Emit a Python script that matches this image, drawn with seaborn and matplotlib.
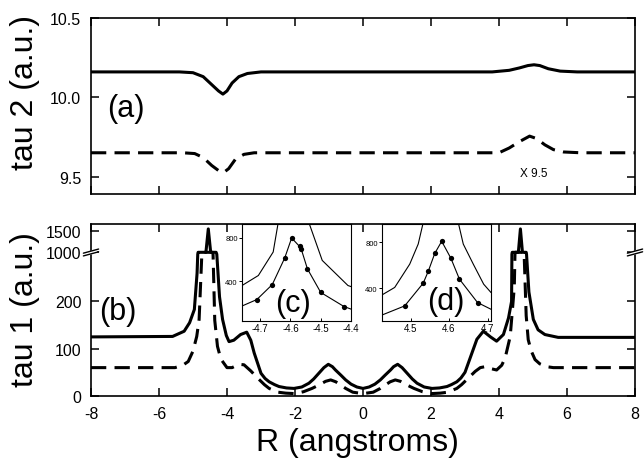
import numpy as np
import pandas as pd
import matplotlib
matplotlib.use("Agg")
import matplotlib.pyplot as plt
import seaborn as sns

# ---------------- panel (a): tau 2 ----------------
r_a_solid = [-8.0, -5.4, -5.0, -4.7, -4.45, -4.25, -4.12, -4.0, -3.85, -3.65, -3.4, -3.0,
             3.8, 4.3, 4.6, 4.85, 5.03, 5.2, 5.45, 5.8, 6.3, 8.0]
tau2_solid = [10.16, 10.16, 10.155, 10.13, 10.08, 10.04, 10.02, 10.04, 10.09, 10.13, 10.15, 10.16,
              10.16, 10.17, 10.185, 10.20, 10.205, 10.20, 10.18, 10.165, 10.16, 10.16]

r_a_dash = [-8.0, -5.3, -4.95, -4.7, -4.45, -4.2, -4.1, -3.95, -3.75, -3.5, -3.2,
            4.0, 4.3, 4.6, 4.9, 5.1, 5.35, 5.6, 5.9, 6.4, 8.0]
tau2_dash = [9.65, 9.65, 9.645, 9.62, 9.57, 9.53, 9.525, 9.55, 9.61, 9.64, 9.65,
             9.65, 9.68, 9.72, 9.755, 9.74, 9.70, 9.67, 9.655, 9.65, 9.65]

# ---------------- panel (b): tau 1 ----------------
r_b_solid = [-8.0, -5.6, -5.26, -5.1, -4.96, -4.88, -4.86, -4.85, -4.62, -4.55, -4.48, -4.32,
             -4.30, -4.22, -4.13, -4.02, -3.94, -3.8, -3.6, -3.42, -3.3, -3.2, -3.0, -2.88,
             -2.76, -2.6, -2.47, -2.25, -2.03, -1.8, -1.59, -1.45, -1.3, -1.15, -1.02, -0.9,
             -0.81, -0.65, -0.51, -0.35, -0.18, 0.0, 0.18, 0.35, 0.51, 0.65, 0.81, 0.9,
             1.02, 1.15, 1.3, 1.45, 1.59, 1.8, 2.03, 2.25, 2.47, 2.6, 2.76, 2.88,
             3.0, 3.2, 3.35, 3.54, 3.75, 3.93, 4.13, 4.28, 4.37, 4.38, 4.39, 4.57,
             4.63, 4.69, 4.80, 4.81, 4.88, 5.01, 5.15, 5.35, 5.74, 8.0]
tau1_solid = [125, 126, 137, 155, 183, 260, 300, 1000, 1000, 1550, 1000, 1000,
              300, 210, 162, 128, 115, 118, 130, 135, 118, 91, 48, 37,
              30, 24, 20, 17, 16, 19, 27, 36, 48, 60, 67, 62,
              55, 44, 34, 25, 19, 16, 19, 25, 34, 44, 55, 62,
              67, 60, 48, 36, 27, 19, 16, 17, 20, 24, 30, 38,
              50, 90, 120, 137, 125, 116, 130, 165, 200, 300, 1000, 1000,
              1550, 1000, 1000, 300, 220, 162, 140, 130, 124, 124]

r_b_dash = [-8.0, -5.53, -5.3, -5.14, -5.0, -4.89, -4.82, -4.74, -4.72, -4.43, -4.41, -4.36,
            -4.28, -4.18, -4.0, -3.85, -3.65, -3.5, -3.3, -3.1, -2.9, -2.76, -2.5, -2.27,
            -2.0, -1.75, -1.5, -1.3, -1.1, -0.95, -0.8, -0.65, -0.51, -0.3, 0.0, 0.3,
            0.51, 0.65, 0.8, 0.95, 1.1, 1.3, 1.5, 1.75, 2.0, 2.27, 2.5, 2.76,
            2.9, 3.1, 3.3, 3.45, 3.59, 3.75, 3.93, 4.08, 4.18, 4.33, 4.45, 4.47,
            4.48, 4.72, 4.74, 4.8, 4.86, 4.95, 5.06, 5.2, 5.4, 5.6, 8.0]
tau1_dash = [60, 60, 65, 73, 95, 126, 162, 300, 1000, 1000, 300, 160,
             105, 78, 60, 60, 67, 66, 53, 38, 24, 16, 8, 6,
             5, 9, 16, 23, 31, 34, 30, 23, 16, 8, 5, 8,
             16, 23, 30, 34, 31, 23, 16, 9, 5, 6, 8, 16,
             24, 38, 52, 60, 62, 58, 55, 65, 80, 126, 230, 300,
             1000, 1000, 300, 170, 119, 95, 77, 68, 62, 60, 60]

# ---------------- insets (c) and (d) ----------------
r_c_outer = [-4.80, -4.76, -4.706, -4.657, -4.64, -4.59, -4.54, -4.495, -4.41, -4.38]
tau_c_outer = [320, 359, 452, 670, 950, 1550, 950, 592, 359, 330]
r_c_inner = [-4.80, -4.711, -4.66, -4.619, -4.596, -4.570, -4.564, -4.544, -4.500, -4.423, -4.37]
tau_c_inner = [120, 229, 368, 614, 800, 722, 694, 514, 295, 164, 110]

r_d_outer = [4.40, 4.426, 4.459, 4.498, 4.52, 4.535, 4.58, 4.622, 4.637, 4.663, 4.69, 4.709, 4.74]
tau_d_outer = [300, 344, 409, 611, 785, 1000, 1550, 1000, 785, 611, 437, 365, 320]
r_d_inner = [4.38, 4.485, 4.533, 4.546, 4.563, 4.581, 4.605, 4.627, 4.674, 4.76]
tau_d_inner = [108, 249, 446, 548, 704, 809, 661, 481, 278, 135]

x_ticks = [-8, -6, -4, -2, 0, 2, 4, 6, 8]
tau2_ticks = [9.5, 10.0, 10.5]
tau1_ticks = [0, 100, 200, 1000, 1500]

sns.set_theme(style="ticks")
plt.rcParams["font.family"] = ["Liberation Sans", "DejaVu Sans"]
plt.rcParams["axes.unicode_minus"] = False
plt.rcParams["axes.linewidth"] = 1.2
for key in ("text.color", "axes.labelcolor", "xtick.color", "ytick.color", "axes.edgecolor"):
    plt.rcParams[key] = "black"

LW = 2.2
DASH = (0, (5, 2.7))

fig = plt.figure(figsize=(6.44, 4.60), dpi=100)
ax_a = fig.add_axes([0.1413, 0.5761, 0.8447, 0.3826])
ax_b = fig.add_axes([0.1413, 0.137, 0.8447, 0.374])


def curve(ax, x, y, **kw):
    df = pd.DataFrame({"r": x, "tau": y})
    sns.lineplot(data=df, x="r", y="tau", ax=ax, estimator=None, sort=False,
                 color="black", legend=False, **kw)


def style_main(ax):
    ax.tick_params(direction="in", top=True, right=True, length=6, width=1.1,
                   labelsize=11.5, pad=7, colors="black")
    for s in ax.spines.values():
        s.set_color("black")
        s.set_linewidth(1.2)


# panel (a)
curve(ax_a, r_a_solid, tau2_solid, lw=LW)
curve(ax_a, r_a_dash, tau2_dash, lw=LW, linestyle=DASH)
ax_a.set_xlim(-8, 8)
ax_a.set_ylim(9.39, 10.5)
ax_a.set_xticks(x_ticks)
ax_a.set_yticks(tau2_ticks)
ax_a.set_yticklabels([f"{v:.1f}" for v in tau2_ticks])
style_main(ax_a)
ax_a.tick_params(labelbottom=False)
ax_a.set_xlabel("")
ax_a.set_ylabel("tau 2 (a.u.)", fontsize=23, va="center")
ax_a.yaxis.set_label_coords(-0.122, 0.585)
ax_a.text(-6.98, 9.93, "(a)", fontsize=22, ha="center", va="center")
ax_a.text(5.02, 9.52, "X 9.5", fontsize=8.5, ha="center", va="center")

# panel (b) with a broken (compressed) y axis above 300
Y_BREAK = [-1000, 300, 1000, 1500, 3000]
U_BREAK = [-1000, 300, 304, 349, 484]


def fwd(y):
    return np.interp(y, Y_BREAK, U_BREAK)


def inv(u):
    return np.interp(u, U_BREAK, Y_BREAK)


ax_b.set_yscale("function", functions=(fwd, inv))
curve(ax_b, r_b_solid, tau1_solid, lw=LW)
curve(ax_b, r_b_dash, tau1_dash, lw=LW, linestyle=DASH)
ax_b.set_xlim(-8, 8)
ax_b.set_ylim(0, 1667)
ax_b.set_xticks(x_ticks)
ax_b.set_xticklabels([str(v) for v in x_ticks])
ax_b.set_yticks(tau1_ticks)
ax_b.set_yticklabels([str(v) for v in tau1_ticks])
ax_b.yaxis.set_minor_locator(matplotlib.ticker.NullLocator())
style_main(ax_b)
ax_b.set_ylabel("tau 1 (a.u.)", fontsize=23, va="center")
ax_b.yaxis.set_label_coords(-0.122, 0.506)
ax_b.set_xlabel("R (angstroms)", fontsize=23, va="center")
ax_b.xaxis.set_label_coords(0.49, -0.267)
ax_b.text(-7.2, 179, "(b)", fontsize=22, ha="center", va="center")

# axis-break marks at 1000 on both spines
yf = ax_b.transAxes.inverted().transform(ax_b.transData.transform((0, 1000)))[1]
for xs in (0.0, 1.0):
    ax_b.fill([xs - 0.010, xs + 0.010, xs + 0.010, xs - 0.010],
              [yf - 0.016, yf - 0.002, yf + 0.012, yf - 0.002],
              transform=ax_b.transAxes, color="white", clip_on=False, zorder=5)
    for dy in (-0.009, 0.007):
        ax_b.plot([xs - 0.014, xs + 0.014], [yf + dy - 0.012, yf + dy + 0.012],
                  transform=ax_b.transAxes, color="black", lw=1.0,
                  clip_on=False, zorder=6)

# insets
def inset(rect, xo, yo, xi, yi, xlim, ylim, xt, label, lpos):
    ax = fig.add_axes(rect)
    ax.set_facecolor("white")
    curve(ax, xo, yo, lw=0.8)
    curve(ax, xi, yi, lw=0.8, marker="o", markersize=3.8,
          markeredgewidth=0, markerfacecolor="black")
    ax.set_xlim(*xlim)
    ax.set_ylim(*ylim)
    ax.set_xticks(xt)
    ax.set_xticklabels([f"{v:.1f}" for v in xt])
    ax.set_yticks([400, 800])
    ax.set_yticklabels(["400", "800"])
    ax.tick_params(axis="x", direction="in", length=2, width=0.7, labelsize=7, pad=1.5)
    ax.tick_params(axis="y", direction="out", length=2, width=0.7, labelsize=5.5, pad=1)
    ax.set_xlabel("")
    ax.set_ylabel("")
    for s in ax.spines.values():
        s.set_color("black")
        s.set_linewidth(0.8)
    ax.text(lpos[0], lpos[1], label, fontsize=22, ha="center", va="center",
            transform=ax.transAxes)
    return ax


inset([242 / 644, 0.30, 109 / 644, 0.2109], r_c_outer, tau_c_outer, r_c_inner, tau_c_inner,
      (-4.76, -4.40), (30, 930), [-4.7, -4.6, -4.5, -4.4], "(c)", (0.47, 0.19))
inset([382 / 644, 0.30, 109 / 644, 0.2109], r_d_outer, tau_d_outer, r_d_inner, tau_d_inner,
      (4.426, 4.709), (118, 959), [4.5, 4.6, 4.7], "(d)", (0.59, 0.21))

fig.savefig("out.png", dpi=100)
